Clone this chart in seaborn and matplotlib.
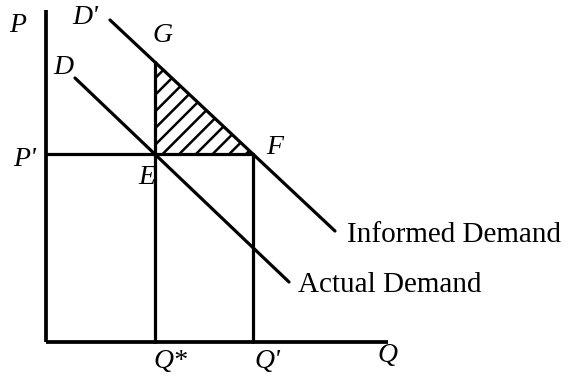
import matplotlib
matplotlib.use("Agg")
import matplotlib.pyplot as plt
import numpy as np
import pandas as pd
import seaborn as sns

# diagram values (Q along x, P along y)
q_star = 10.9
q_prime = 20.7
p_prime = 18.8
p_g = 28.0
q_axis_end = 34.2
p_axis_top = 33.2

# demand curves: end points
actual_q = [2.9, 24.3]
actual_p = [26.4, 6.0]
informed_q = [6.4, 28.9]
informed_p = [32.2, 11.1]

# shaded triangle E-G-F
tri_q = [q_star, q_star, q_prime]
tri_p = [p_prime, p_g, p_prime]

sns.set_style("white")
plt.rcParams["hatch.linewidth"] = 1.8

fig = plt.figure(figsize=(5.71, 3.78), dpi=100)
ax = fig.add_axes([0, 0, 1, 1])
ax.set_xlim(-4.6, 52.5)
ax.set_ylim(-3.6, 34.2)
ax.axis("off")

lw = 2.3
k = "black"

# axes
ax.plot([0, 0], [0, p_axis_top], color=k, lw=lw + 0.4, solid_capstyle="butt")
ax.plot([0, q_axis_end], [0, 0], color=k, lw=lw + 0.4, solid_capstyle="butt")

# demand curves
curves = pd.DataFrame({
    "Q": actual_q + informed_q,
    "P": actual_p + informed_p,
    "curve": ["Actual Demand"] * 2 + ["Informed Demand"] * 2,
})
sns.lineplot(data=curves, x="Q", y="P", units="curve", estimator=None,
             sort=False, color=k, lw=lw, ax=ax, legend=False)

# guide lines
ax.plot([0, q_prime], [p_prime, p_prime], color=k, lw=lw)
ax.plot([q_star, q_star], [0, p_g], color=k, lw=lw)
ax.plot([q_prime, q_prime], [0, p_prime], color=k, lw=lw)

# hatched welfare loss
ax.fill(tri_q, tri_p, facecolor="none", edgecolor=k, hatch="//", lw=0)

letter = dict(family="Liberation Serif", style="italic", fontsize=20,
              ha="center", va="center", color=k)
ax.text(-2.8, 31.7, "P", **letter)
ax.text(3.9, 32.4, "D'", **letter)
ax.text(11.6, 30.7, "G", **letter)
ax.text(1.7, 27.4, "D", **letter)
ax.text(22.9, 19.4, "F", **letter)
ax.text(-2.1, 18.2, "P'", **letter)
ax.text(10.1, 16.5, "E", **letter)
ax.text(12.4, -2.0, "Q*", **letter)
ax.text(22.1, -2.0, "Q'", **letter)
ax.text(34.1, -1.3, "Q", **letter)

label = dict(family="Liberation Serif", fontsize=21, ha="left",
             va="center", color=k)
ax.text(30.1, 10.7, "Informed Demand", **label)
ax.text(25.2, 5.7, "Actual Demand", **label)

fig.savefig("out.png", dpi=100, facecolor="white")
